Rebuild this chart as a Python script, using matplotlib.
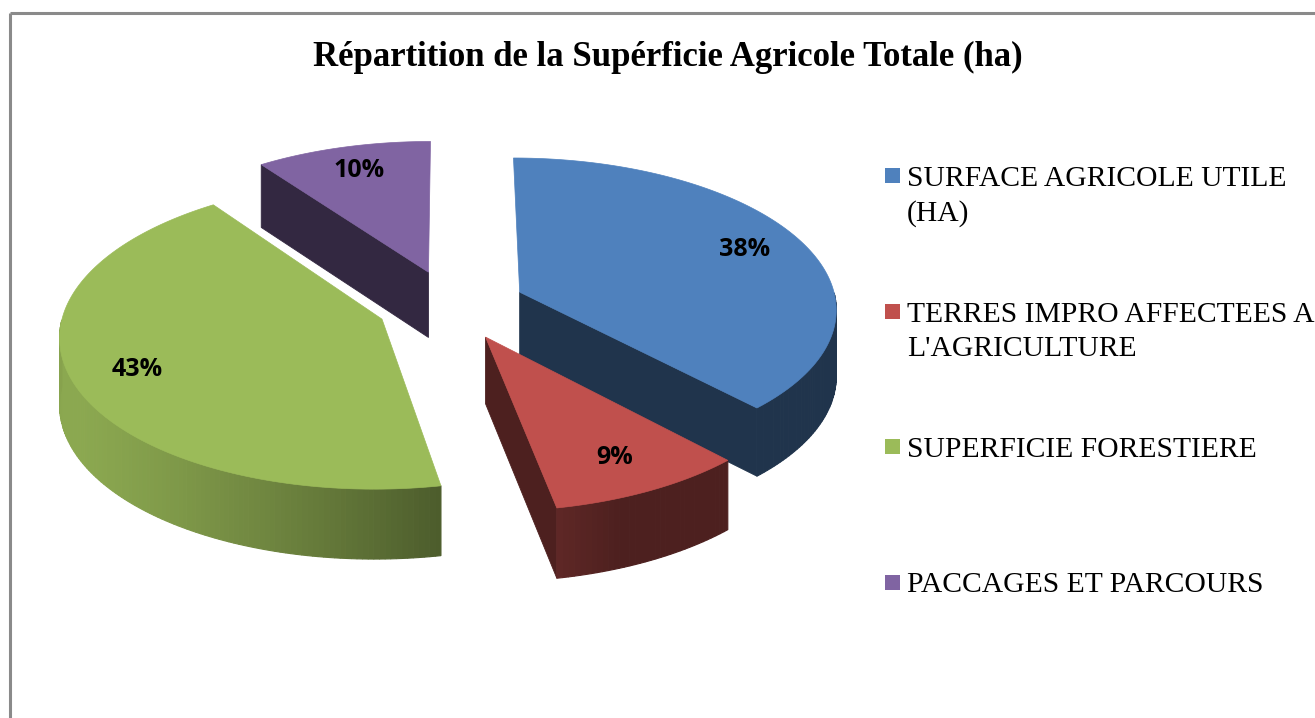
import numpy as np
import matplotlib
matplotlib.use("Agg")
import matplotlib.pyplot as plt
from matplotlib.patches import Polygon, Rectangle
from matplotlib.lines import Line2D
from matplotlib.colors import to_rgb

# ---------------- data ----------------
title = "Répartition de la Supérficie Agricole Totale (ha)"
categories = [["SURFACE AGRICOLE UTILE", "(HA)"],
              ["TERRES IMPRO AFFECTEES A", "L'AGRICULTURE"],
              ["SUPERFICIE FORESTIERE"],
              ["PACCAGES ET PARCOURS"]]
values = [38, 9, 43, 10]
top_colors = ["#4F81BD", "#C0504D", "#9BBB59", "#8064A2"]

# ---------------- figure ----------------
W, H = 1315, 718
fig = plt.figure(figsize=(W / 100, H / 100), dpi=100)
ax = fig.add_axes([0, 0, 1, 1])
ax.set_xlim(0, W)
ax.set_ylim(H, 0)
ax.axis("off")

# chart border (extends beyond right/bottom edges)
ax.add_line(Line2D([10, W + 5], [13, 13], color="#8A8A8A", lw=2.2, solid_capstyle="butt"))
ax.add_line(Line2D([10, 10], [13, H + 5], color="#8A8A8A", lw=2.2, solid_capstyle="butt"))

# ---------------- 3D pie geometry ----------------
CX, CY = 451, 305      # pie centre (pixels)
RX, RY = 317, 150      # projected radii
PERSP = 0.10           # perspective strength
EXPL = 0.235           # explosion (fraction of radius)
DEPTH = 66             # thickness in pixels
LABEL_R = 0.80


def proj(X, Y):
    k = 1.0 / (1.0 + PERSP * Y)
    return CX + RX * X * k, CY - RY * Y * k, k


def shade(color, f):
    r, g, b = to_rgb(color)
    return (r * f, g * f, b * f)


total = float(sum(values))
slices = []
cum = 0.0
for v, c in zip(values, top_colors):
    t0 = np.pi / 2 - 2 * np.pi * cum / total
    t1 = t0 - 2 * np.pi * v / total
    m = 0.5 * (t0 + t1)
    slices.append(dict(v=v, c=c, t0=t0, t1=t1, m=m,
                       ox=EXPL * np.cos(m), oy=EXPL * np.sin(m)))
    cum += v

# draw back-to-front
order = sorted(range(len(slices)), key=lambda i: -slices[i]["oy"])

for i in order:
    s = slices[i]
    ox, oy, c = s["ox"], s["oy"], s["c"]
    th = np.linspace(s["t0"], s["t1"], max(8, int(abs(s["t1"] - s["t0"]) / (2 * np.pi) * 400)))
    ax_, ay_, ak = proj(ox, oy)
    apex_top = (ax_, ay_)
    apex_bot = (ax_, ay_ + DEPTH * np.sqrt(ak))
    pts_top, pts_bot = [], []
    for t in th:
        x, y, k = proj(ox + np.cos(t), oy + np.sin(t))
        pts_top.append((x, y))
        pts_bot.append((x, y + DEPTH * np.sqrt(k)))

    wall_col = shade(c, 0.40)
    # radial walls
    if np.cos(s["t0"]) < -1e-6:
        poly = [apex_top, pts_top[0], pts_bot[0], apex_bot]
        ax.add_patch(Polygon(poly, closed=True, fc=wall_col, ec=wall_col, lw=0.6))
    if np.cos(s["t1"]) > 1e-6:
        poly = [apex_top, pts_top[-1], pts_bot[-1], apex_bot]
        ax.add_patch(Polygon(poly, closed=True, fc=wall_col, ec=wall_col, lw=0.6))

    # outer curved wall (front part only), shaded by normal direction
    light = np.deg2rad(-158.6)
    for j in range(len(th) - 1):
        tm = 0.5 * (th[j] + th[j + 1])
        if np.sin(tm) >= 0:
            continue
        f = 0.40 + 0.50 * max(0.0, np.cos(tm - light))
        col = shade(c, f)
        poly = [pts_top[j], pts_top[j + 1], pts_bot[j + 1], pts_bot[j]]
        ax.add_patch(Polygon(poly, closed=True, fc=col, ec=col, lw=0.8))

    # top face
    ax.add_patch(Polygon([apex_top] + pts_top, closed=True, fc=c, ec=c, lw=0.5))

    # percentage label
    lx, ly, _ = proj(ox + LABEL_R * np.cos(s["m"]), oy + LABEL_R * np.sin(s["m"]))
    ax.text(lx, ly, f"{round(100 * s['v'] / total)}%", ha="center", va="center",
            fontsize=18, fontweight="bold", family="Open Sans", color="black")

# ---------------- title ----------------
ax.text(668, 57, title, ha="center", va="center", fontsize=25,
        fontweight="bold", family="Liberation Serif", color="black")

# ---------------- legend ----------------
LEG_X, LEG_BASE0, LEG_DY, LINE_DY = 885, 186, 135.5, 35
for j, (lines, c) in enumerate(zip(categories, top_colors)):
    base = LEG_BASE0 + j * LEG_DY
    ax.add_patch(Rectangle((LEG_X, base - 18), 15, 15, fc=c, ec="none"))
    for n, line in enumerate(lines):
        ax.text(LEG_X + 22, base + n * LINE_DY, line, ha="left", va="baseline",
                fontsize=21.3, family="Liberation Serif", color="black")

fig.savefig("out.png", dpi=100)
